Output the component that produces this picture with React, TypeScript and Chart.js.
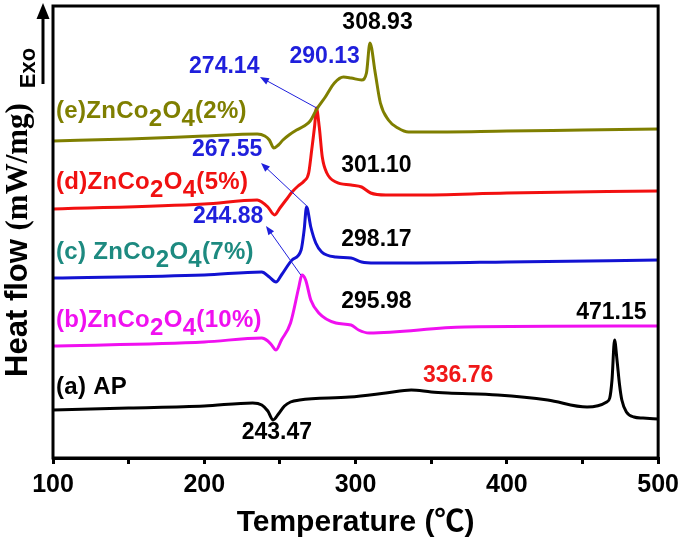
import React, { useEffect, useRef } from 'react';
import { Chart, registerables } from 'chart.js';

Chart.register(...registerables);

// ---- data (temperature in °C, heat flow in arbitrary offset units) ----
const tempE = [100, 150, 200, 235, 240, 243, 246, 249, 252, 256, 261, 266, 270, 274, 280, 286, 292, 297, 304, 307.2, 309.5, 313, 316.4, 321.7, 328, 335, 345, 400, 450, 500];
const flowE = [15.85, 15.95, 16.1, 16.2, 16.1, 15.9, 15.5, 15.65, 15.9, 16.15, 16.4, 16.6, 16.85, 17.4, 18.05, 18.75, 19.05, 19.0, 18.9, 19.25, 20.75, 19.25, 17.75, 16.9, 16.5, 16.3, 16.3, 16.35, 16.4, 16.45];

const tempD = [100, 200, 235, 238, 242, 246.5, 250, 254, 258, 262, 266, 269, 271, 273, 274.1, 276, 278, 281, 287, 297, 304, 310, 320, 340, 400, 500];
const flowD = [12.45, 12.7, 12.9, 12.8, 12.55, 12.15, 12.5, 12.9, 13.3, 13.6, 13.85, 14.25, 15.4, 16.65, 17.5, 16.55, 15.05, 14.25, 13.8, 13.65, 13.55, 13.25, 13.15, 13.15, 13.25, 13.35];

const tempC = [100, 200, 238, 243, 247.4, 251, 258, 264, 266, 267.6, 270.4, 273.7, 277.6, 287, 297, 304, 313, 340, 400, 500];
const flowC = [9.0, 9.15, 9.3, 9.05, 8.8, 9.15, 9.9, 10.4, 11.4, 12.55, 11.55, 10.75, 10.3, 10.05, 10.0, 9.8, 9.75, 9.75, 9.8, 9.9];

const tempB = [100, 200, 238, 242, 244.5, 247.4, 251, 257, 262.5, 264.5, 267, 270.4, 275.7, 287, 297, 302, 309, 372, 500];
const flowB = [5.6, 5.8, 6.0, 5.85, 5.65, 5.4, 5.9, 6.75, 8.55, 9.15, 8.9, 7.9, 7.25, 6.75, 6.65, 6.4, 6.25, 6.55, 6.6];

const tempA = [100, 150, 200, 232, 238, 242, 245.5, 249, 253, 257, 263, 296, 320, 336.8, 350, 361, 394, 427, 453, 466, 468, 469.5, 471.2, 472.8, 474.5, 476, 479, 484, 490, 500];
const flowA = [2.4, 2.5, 2.6, 2.75, 2.65, 2.35, 1.9, 2.2, 2.6, 2.8, 2.9, 3.05, 3.25, 3.4, 3.3, 3.25, 3.15, 2.9, 2.55, 2.8, 3.0, 3.9, 5.9, 4.9, 3.65, 2.9, 2.3, 2.05, 2.0, 1.95];

const xTickValues = [100, 200, 300, 400, 500];

const OLIVE = '#7f7f00';
const RED = '#f21010';
const BLUE = '#1212d2';
const MAGENTA = '#f010f0';
const TEAL = '#1d8a80';
const NUMBLUE = '#1f1fdc';

const seriesLabels = [
  { parts: ['(e)ZnCo', '2', 'O', '4', '(2%)'], v: 17.35, color: OLIVE },
  { parts: ['(d)ZnCo', '2', 'O', '4', '(5%)'], v: 13.8, color: '#f01010' },
  { parts: ['(c) ZnCo', '2', 'O', '4', '(7%)'], v: 10.3, color: TEAL },
  { parts: ['(b)ZnCo', '2', 'O', '4', '(10%)'], v: 6.9, color: MAGENTA },
  { parts: ['(a) AP'], v: 3.55, color: '#000' },
];

const peakLabels = [
  { text: '308.93', t: 314.5, v: 21.75, color: '#000' },
  { text: '290.13', t: 279.6, v: 20.05, color: NUMBLUE },
  { text: '274.14', t: 213.2, v: 19.55, color: NUMBLUE },
  { text: '267.55', t: 215.1, v: 15.4, color: NUMBLUE },
  { text: '301.10', t: 313.8, v: 14.6, color: '#000' },
  { text: '244.88', t: 215.8, v: 12.05, color: NUMBLUE },
  { text: '298.17', t: 313.8, v: 10.9, color: '#000' },
  { text: '295.98', t: 313.8, v: 7.8, color: '#000' },
  { text: '471.15', t: 469.1, v: 7.25, color: '#000' },
  { text: '336.76', t: 367.8, v: 4.1, color: '#f01818' },
  { text: '243.47', t: 248, v: 1.25, color: '#000' },
];

const arrows = [
  { from: [274.3, 17.5], to: [236.8, 19.05] },
  { from: [267.8, 12.6], to: [237.5, 14.75] },
  { from: [263.8, 9.15], to: [240.8, 11.6] },
];

const SANS = '"Liberation Sans", Arial, "Noto Sans CJK SC", sans-serif';
const SERIF = '"Liberation Serif", "Times New Roman", serif';

function pts(t: number[], f: number[]) {
  return t.map((x, i) => ({ x, y: f[i] }));
}

const annotPlugin = {
  id: 'annot',
  afterDraw(chart: any) {
    const ctx: CanvasRenderingContext2D = chart.ctx;
    const xs = chart.scales.x;
    const ys = chart.scales.y;
    const ca = chart.chartArea;
    ctx.save();

    // frame
    ctx.strokeStyle = '#000';
    ctx.lineWidth = 3;
    ctx.strokeRect(ca.left, ca.top, ca.right - ca.left, ca.bottom - ca.top);

    // arrows
    ctx.strokeStyle = NUMBLUE;
    ctx.fillStyle = NUMBLUE;
    ctx.lineWidth = 1;
    for (const a of arrows) {
      const x1 = xs.getPixelForValue(a.from[0]);
      const y1 = ys.getPixelForValue(a.from[1]);
      const x2 = xs.getPixelForValue(a.to[0]);
      const y2 = ys.getPixelForValue(a.to[1]);
      const ang = Math.atan2(y2 - y1, x2 - x1);
      ctx.beginPath();
      ctx.moveTo(x1, y1);
      ctx.lineTo(x2 - 6 * Math.cos(ang), y2 - 6 * Math.sin(ang));
      ctx.stroke();
      ctx.beginPath();
      ctx.moveTo(x2, y2);
      ctx.lineTo(x2 - 9 * Math.cos(ang) + 3.5 * Math.sin(ang), y2 - 9 * Math.sin(ang) - 3.5 * Math.cos(ang));
      ctx.lineTo(x2 - 9 * Math.cos(ang) - 3.5 * Math.sin(ang), y2 - 9 * Math.sin(ang) + 3.5 * Math.cos(ang));
      ctx.closePath();
      ctx.fill();
    }

    // peak labels
    ctx.font = `bold 23px ${SANS}`;
    ctx.textAlign = 'center';
    ctx.textBaseline = 'middle';
    for (const p of peakLabels) {
      ctx.fillStyle = p.color;
      ctx.fillText(p.text, xs.getPixelForValue(p.t), ys.getPixelForValue(p.v));
    }

    // series labels with subscripts
    ctx.font = `bold 24px ${SANS}`;
    ctx.textAlign = 'left';
    (ctx as any).letterSpacing = '0.3px';
    for (const s of seriesLabels) {
      let x = xs.getPixelForValue(102);
      const y = ys.getPixelForValue(s.v);
      ctx.fillStyle = s.color;
      s.parts.forEach((part, i) => {
        const sub = i === 1 || i === 3;
        ctx.fillText(part, x, sub ? y + 8 : y);
        x += ctx.measureText(part).width;
      });
    }
    (ctx as any).letterSpacing = '0px';

    // y title
    ctx.save();
    ctx.translate(27, 240);
    ctx.rotate(-Math.PI / 2);
    ctx.fillStyle = '#000';
    ctx.textBaseline = 'alphabetic';
    ctx.textAlign = 'left';
    const p1 = 'Heat flow ';
    const p2 = '(mW/mg)';
    ctx.font = `bold 31px ${SANS}`;
    const w1 = ctx.measureText(p1).width;
    ctx.font = `bold 31px ${SERIF}`;
    const w2 = ctx.measureText(p2).width;
    const start = -(w1 + w2) / 2;
    ctx.font = `bold 31px ${SANS}`;
    ctx.fillText(p1, start, 0);
    ctx.font = `bold 31px ${SERIF}`;
    ctx.fillText(p2, start + w1, 0);
    ctx.restore();

    // Exo + arrow
    ctx.save();
    ctx.translate(35, 68);
    ctx.rotate(-Math.PI / 2);
    ctx.font = `bold 22px ${SANS}`;
    ctx.fillStyle = '#000';
    ctx.textAlign = 'center';
    ctx.textBaseline = 'alphabetic';
    ctx.fillText('Exo', 0, 0);
    ctx.restore();

    ctx.strokeStyle = '#000';
    ctx.fillStyle = '#000';
    ctx.lineWidth = 3;
    ctx.beginPath();
    ctx.moveTo(43, 84);
    ctx.lineTo(43, 15);
    ctx.stroke();
    ctx.beginPath();
    ctx.moveTo(43, 3);
    ctx.lineTo(36.5, 19);
    ctx.lineTo(49.5, 19);
    ctx.closePath();
    ctx.fill();

    ctx.restore();
  },
};

export default function App() {
  const ref = useRef<HTMLCanvasElement | null>(null);
  useEffect(() => {
    document.body.style.margin = '0';
    if (!ref.current) return;
    const mk = (data: any, color: string) => ({
      data,
      borderColor: color,
      borderWidth: 3,
      pointRadius: 0,
      fill: false,
      cubicInterpolationMode: 'monotone' as const,
    });
    const chart = new Chart(ref.current, {
      type: 'line',
      data: {
        datasets: [
          mk(pts(tempE, flowE), OLIVE),
          mk(pts(tempD, flowD), RED),
          mk(pts(tempC, flowC), BLUE),
          mk(pts(tempB, flowB), MAGENTA),
          mk(pts(tempA, flowA), '#000'),
        ],
      },
      options: {
        animation: false,
        responsive: true,
        maintainAspectRatio: false,
        layout: { padding: { left: 53, right: 24, top: 6, bottom: 0 } },
        plugins: { legend: { display: false }, tooltip: { enabled: false } },
        scales: {
          x: {
            type: 'linear',
            min: 100,
            max: 500,
            afterFit: (s: any) => {
              s.height = 84;
            },
            grid: { drawOnChartArea: false, drawTicks: true, tickLength: 6, color: '#000', lineWidth: 3 },
            border: { display: true, color: '#000', width: 3 },
            ticks: {
              stepSize: 50,
              autoSkip: false,
              maxRotation: 0,
              padding: 6,
              color: '#000',
              font: { family: SANS, size: 25, weight: 'bold' },
              callback: (v: any) => (xTickValues.includes(Number(v)) ? String(v) : ''),
            },
            title: {
              display: true,
              text: 'Temperature (℃)',
              color: '#000',
              font: { family: SANS, size: 30, weight: 'bold' },
              padding: { top: 0, bottom: 1 },
            },
          },
          y: {
            type: 'linear',
            min: 0,
            max: 22.6,
            display: false,
          },
        },
      },
      plugins: [annotPlugin],
    });
    return () => chart.destroy();
  }, []);
  return (
    <div style={{ position: 'absolute', left: 0, top: 0, width: 685, height: 542 }}>
      <canvas ref={ref} />
    </div>
  );
}
